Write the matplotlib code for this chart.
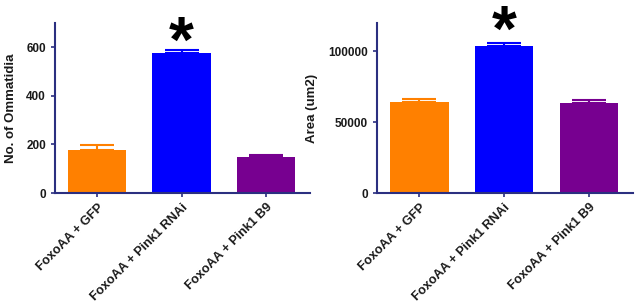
import matplotlib
matplotlib.use('Agg')
import matplotlib.pyplot as plt

plt.rcParams['font.family'] = ['Liberation Sans', 'DejaVu Sans']
plt.rcParams['font.weight'] = 'bold'

groups = ['FoxoAA + GFP', 'FoxoAA + Pink1 RNAi', 'FoxoAA + Pink1 B9']
colors = ['#ff8000', '#0000ff', '#770090']

ommatidia = [177, 578, 150]
ommatidia_err = [21, 9, 7]

area = [64100, 103400, 63400]
area_err = [2100, 2600, 2100]

spine = '#2b2f80'
txt = '#1a1a1a'

fig = plt.figure(figsize=(6.4, 3.05), dpi=100)
ax1 = fig.add_axes([0.086, 0.367, 0.398, 0.558])
ax2 = fig.add_axes([0.589, 0.367, 0.400, 0.558])


def panel(ax, vals, errs, ylim, yticks, ylabel, star_y):
    x = range(len(vals))
    for i in x:
        ax.bar(i, vals[i], width=0.69, color=colors[i])
        ax.errorbar(i, vals[i], yerr=[[0], [errs[i]]], color=colors[i],
                    capsize=12, capthick=1.5, elinewidth=1.5)
    ax.set_xlim(-0.5, 2.52)
    ax.set_ylim(*ylim)
    ax.set_yticks(yticks)
    ax.set_xticks(list(x))
    ax.tick_params(axis='both', color=spine, length=3, width=1.2)
    ax.tick_params(axis='x', pad=3)
    ax.tick_params(axis='y', labelsize=8.5, labelcolor=txt)
    ax.set_xticklabels(groups, rotation=45, ha='right', rotation_mode='anchor',
                       fontsize=9.2, color=txt, fontweight='bold')
    for s in ['top', 'right']:
        ax.spines[s].set_visible(False)
    for s in ['left', 'bottom']:
        ax.spines[s].set_color(spine)
        ax.spines[s].set_linewidth(1.5)
    ax.set_ylabel(ylabel, fontsize=9.5, color=txt, fontweight='bold')
    ax.text(1, star_y, '*', ha='center', va='center', fontsize=46,
            fontweight='bold', color='black')


panel(ax1, ommatidia, ommatidia_err, (0, 700), [0, 200, 400, 600],
      'No. of Ommatidia', 610)
panel(ax2, area, area_err, (0, 120000), [0, 50000, 100000],
      'Area (um2)', 112000)
ax1.yaxis.set_label_coords(-0.15, 0.5)
ax2.yaxis.set_label_coords(-0.23, 0.5)

fig.savefig('out.png', dpi=100)
